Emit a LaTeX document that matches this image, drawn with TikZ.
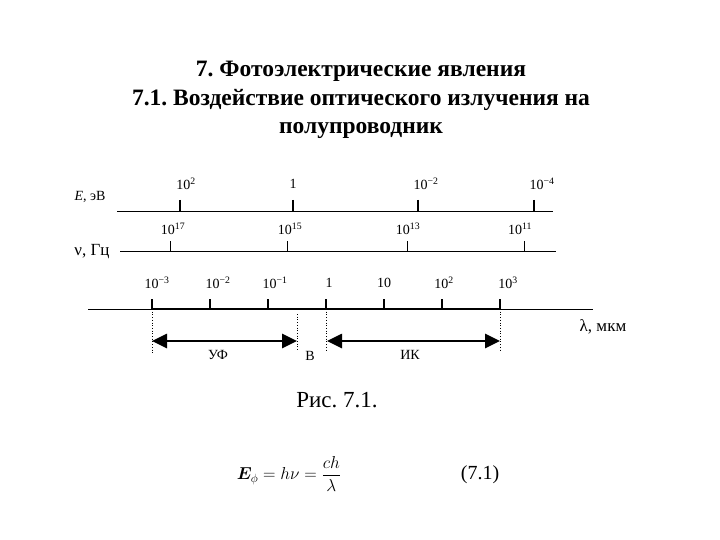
\documentclass[tikz,border=0pt]{standalone}
\usepackage{amsmath}
\usepackage{fontspec}
\usepackage{bm}
\setmainfont{Liberation Serif}
\usetikzlibrary{positioning,arrows.meta}
\frenchspacing

\begin{document}
\begin{tikzpicture}[
    x=1pt, y=-1pt,
    >={Triangle[length=15pt,width=14pt]},
    head/.style={font=\bfseries\fontsize{23.5}{26}\selectfont, inner sep=0pt, anchor=base},
    lab/.style={font=\fontsize{14}{16}\selectfont, inner sep=1pt},
    biglab/.style={font=\fontsize{17}{19}\selectfont, inner sep=1pt},
    bandlab/.style={font=\fontsize{14}{16}\selectfont, inner sep=1pt},
    axis/.style={line width=0.9pt},
    tick/.style={line width=1.1pt},
    guide/.style={dotted, line width=0.7pt},
    band/.style={<->, line width=2.6pt},
  ]
\useasboundingbox (0,0) rectangle (720,540);

% Heading
\node[head] (t1) at (361,77) {7. Фотоэлектрические явления};
\node[head] (t2) at (361,106) {7.1. Воздействие оптического излучения на};
\node[head] (t3) at (361,134) {полупроводник};

% Photon energy scale
\node[lab] (elab) at (90,197) {\textit{E}, эВ};
\coordinate (ea) at (117,211);
\coordinate (eb) at (553,211);
\draw[axis] (ea) -- (eb);
\foreach \x/\lx/\t [count=\i] in {180/186/10\textsuperscript{2}, 293/293/1,
    418/426/10\textsuperscript{−2}, 534/542/10\textsuperscript{−4}} {
  \draw[tick] (\x,200) -- (\x,211);
  \node[lab] (e\i) at (\lx,184) {\t};
}

% Frequency scale
\node[biglab] (nulab) at (92,252) {ν, Гц};
\coordinate (na) at (120,251);
\coordinate (nb) at (556,251);
\draw[axis] (na) -- (nb);
\foreach \x/\lx/\t [count=\i] in {170/173/10\textsuperscript{17}, 287/290/10\textsuperscript{15},
    407/408/10\textsuperscript{13}, 524/520/10\textsuperscript{11}} {
  \draw[axis] (\x,241) -- (\x,251);
  \node[lab] (n\i) at (\lx,229) {\t};
}

% Wavelength scale
\coordinate (la) at (88,309);
\coordinate (lb) at (593,309);
\coordinate (lthin) at (152,309);
\coordinate (lthick) at (500,309);
\draw[axis] (la) -- (lb);
\draw[line width=2pt] (lthin) -- (lthick);
\foreach \x/\lx/\t [count=\i] in {152/157/10\textsuperscript{−3}, 210/218/10\textsuperscript{−2},
    268/275/10\textsuperscript{−1}, 326/329/1, 384/384/10, 442/444/10\textsuperscript{2},
    500/508/10\textsuperscript{3}} {
  \draw[tick] (\x,299) -- (\x,309);
  \node[lab] (l\i) at (\lx,283) {\t};
}
\node[biglab] (lamlab) at (603,327) {λ, мкм};

% Spectral ranges
\coordinate (uva) at (152,341);
\coordinate (uvb) at (297,341);
\coordinate (ira) at (327,341);
\coordinate (irb) at (500,341);
\draw[guide] (152,309) -- (152,353);
\draw[guide] (297,314) -- (297,351);
\draw[guide] (326,309) -- (326,352);
\draw[guide] (500,309) -- (500,352);
\draw[band] (uva) -- (uvb);
\draw[band] (ira) -- (irb);
\node[bandlab] (uv) at (218,355) {УФ};
\node[bandlab] (vis) at (310,356) {В};
\node[bandlab] (ir) at (410,355) {ИК};

% Caption and formula
\node[font=\fontsize{23}{25}\selectfont] (cap) at (337,400) {Рис. 7.1.};
\node[font=\fontsize{17}{20}\selectfont] (form) at (289,474)
  {$\bm{E}_{\phi} = h\nu = \dfrac{ch}{\lambda}$};
\node[font=\fontsize{20}{22}\selectfont] (num) at (480,475) {(7.1)};

\end{tikzpicture}
\end{document}
